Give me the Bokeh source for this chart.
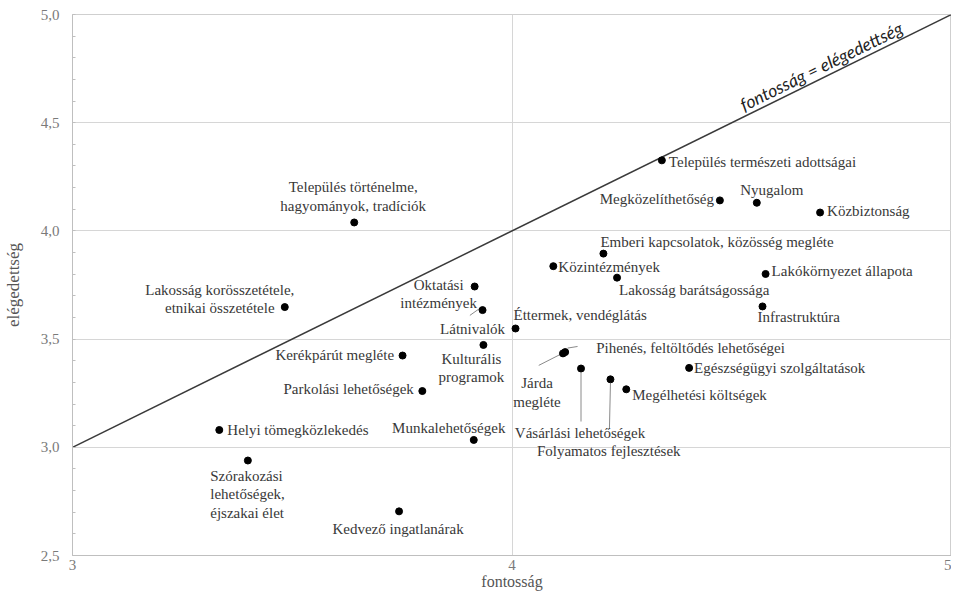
import math
from bokeh.plotting import figure
from bokeh.models import ColumnDataSource, FixedTicker, CustomJSTickFormatter
from bokeh.core.properties import value
from bokeh.embed import file_html
from bokeh.resources import INLINE

# ---------------- data ----------------
nevek = [
    "Település természeti adottságai",
    "Megközelíthetőség",
    "Nyugalom",
    "Közbiztonság",
    "Település történelme,\nhagyományok, tradíciók",
    "Emberi kapcsolatok, közösség megléte",
    "Közintézmények",
    "Lakosság barátságossága",
    "Lakókörnyezet állapota",
    "Infrastruktúra",
    "Éttermek, vendéglátás",
    "Oktatási\nintézmények",
    "Látnivalók",
    "Kulturális\nprogramok",
    "Lakosság korösszetétele,\netnikai összetétele",
    "Kerékpárút megléte",
    "Parkolási lehetőségek",
    "Helyi tömegközlekedés",
    "Szórakozási\nlehetőségek,\néjszakai élet",
    "Munkalehetőségek",
    "Kedvező ingatlanárak",
    "Pihenés, feltöltődés lehetőségei",
    "Járda\nmegléte",
    "Vásárlási lehetőségek",
    "Folyamatos fejlesztések",
    "Megélhetési költségek",
    "Egészségügyi szolgáltatások",
]
fontossag = [4.341, 4.473, 4.557, 4.701, 3.641, 4.208, 4.094, 4.239, 4.577, 4.570,
             4.008, 3.915, 3.933, 3.935, 3.483, 3.751, 3.796, 3.334, 3.399, 3.913,
             3.743, 4.121, 4.116, 4.157, 4.224, 4.260, 4.403]
elegedettseg = [4.326, 4.141, 4.130, 4.085, 4.039, 3.895, 3.837, 3.784, 3.801, 3.651,
                3.549, 3.743, 3.634, 3.473, 3.648, 3.424, 3.260, 3.080, 2.939, 3.034,
                2.704, 3.440, 3.434, 3.364, 3.314, 3.268, 3.367]

x_ticks = [3, 4, 5]
y_ticks = [2.5, 3.0, 3.5, 4.0, 4.5, 5.0]
diag = [3, 5]
diag_label = "fontosság = elégedettség"

# ---------------- label layout (screen px offsets, alignment) ----------------
lab_dx = [7, -6, 15, 7, -1, -3, 5, 2, 6, -5,
          -2, -36, -10, -12, -65, -8.5, -8.5, 8, -37.6, -25,
          -1, 31, -26, -1, -1.7, 6, 5]
lab_dy = [2, -1, -13, -2, -26, -12, 1, 12, -3, 11,
          -13, 7.5, 19, 23, -8.3, -1, -2, 0, 34, -12.4,
          18, -4, 39, 64, 72, 6, 0]
lab_align = ["left", "right", "center", "left", "center", "left", "left", "left", "left", "left",
             "left", "center", "center", "center", "center", "right", "right", "left", "left", "center",
             "center", "left", "center", "center", "center", "left", "left"]

# leader lines: (index, start dx, start dy, end dx, end dy) in px from the point
leaders = [
    (22, -24.3, 12, -2.6, 1),
    (21, 2.4, -4, 12.4, -5.6),
    (23, 0, 4, 0, 53),
    (24, 0, 4, -1, 49),
    (12, -12.7, 5.3, -3.4, -1.3),
]

W, H = 951, 597
ML, MR, MT, MB = 70, 0, 14, 42
px_x = (W - ML - MR) / 2.0
px_y = (H - MT - MB) / 2.5
ang = math.atan2(px_y, px_x)

p = figure(width=W, height=H, output_backend="svg", toolbar_location=None,
           x_range=(3, 5), y_range=(2.5, 5.0),
           min_border_left=ML, min_border_right=MR, min_border_top=MT, min_border_bottom=MB,
           background_fill_color="white", border_fill_color="white")
p.outline_line_color = "#cfcfcf"

# axes
p.xaxis.ticker = FixedTicker(ticks=x_ticks)
minor = [round(2.5 + 0.1 * i, 1) for i in range(26)]
p.yaxis.ticker = FixedTicker(ticks=y_ticks, minor_ticks=minor)
p.yaxis.formatter = CustomJSTickFormatter(code="return tick.toFixed(1).replace('.', ',');")
for ax in (p.xaxis, p.yaxis):
    ax.axis_line_color = "#bfbfbf"
    ax.major_tick_in = 0
    ax.major_tick_out = 0
    ax.major_label_text_font = "Liberation Serif"
    ax.major_label_text_font_size = "15px"
    ax.major_label_text_color = "#7a7a7a"
    ax.axis_label_text_font = "Liberation Serif"
    ax.axis_label_text_font_size = "16px"
    ax.axis_label_text_font_style = "normal"
    ax.axis_label_text_color = "#555555"
p.yaxis.axis_label_text_font_size = "17px"
p.xaxis.minor_tick_line_color = None
p.yaxis.minor_tick_in = 3
p.yaxis.minor_tick_out = 0
p.yaxis.minor_tick_line_color = "#bfbfbf"
p.xaxis.axis_label = "fontosság"
p.yaxis.axis_label = "elégedettség"
p.xaxis.major_label_standoff = 4
p.xaxis.axis_label_standoff = 0
p.yaxis.major_label_standoff = 13
p.yaxis.axis_label_standoff = 15

p.xgrid.ticker = FixedTicker(ticks=[4])
p.ygrid.ticker = FixedTicker(ticks=y_ticks)
p.xgrid.grid_line_color = "#d6d6d6"
p.ygrid.grid_line_color = "#d6d6d6"

# diagonal
p.line(x=diag, y=diag, line_color="#3a3a3a", line_width=1.5)
p.text(x=[4.715], y=[4.715], text=[diag_label], angle=ang,
       text_font=value("Lato"), text_font_style="italic", text_font_size="17.5px",
       text_color="#222222", text_align="center", text_baseline="alphabetic",
       x_offset=-math.sin(ang) * 11, y_offset=-math.cos(ang) * 11)

# leader lines
lx0, ly0, lx1, ly1 = [], [], [], []
for i, sx, sy, ex, ey in leaders:
    lx0.append(fontossag[i] + sx / px_x)
    ly0.append(elegedettseg[i] - sy / px_y)
    lx1.append(fontossag[i] + ex / px_x)
    ly1.append(elegedettseg[i] - ey / px_y)
p.segment(x0=lx0, y0=ly0, x1=lx1, y1=ly1, line_color="#8a8a8a", line_width=1)

# points
p.scatter(x=fontossag, y=elegedettseg, size=7, fill_color="black", line_color="black")

# labels grouped by alignment
for al in ("left", "center", "right"):
    idx = [i for i, a in enumerate(lab_align) if a == al]
    src = ColumnDataSource(dict(
        x=[fontossag[i] for i in idx],
        y=[elegedettseg[i] for i in idx],
        t=[nevek[i] for i in idx],
        dx=[lab_dx[i] for i in idx],
        dy=[lab_dy[i] for i in idx],
    ))
    p.text(x="x", y="y", text="t", x_offset="dx", y_offset="dy", source=src,
           text_font=value("Liberation Serif"), text_font_size="15px",
           text_color="#383838", text_align=al, text_baseline="middle",
           text_line_height=1.15)

open("out.html", "w").write(file_html(p, INLINE))
